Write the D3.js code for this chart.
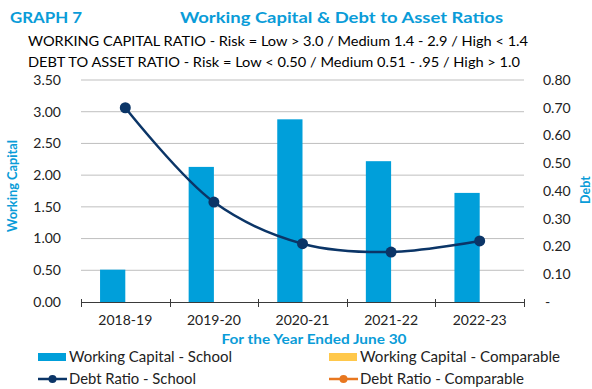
<!DOCTYPE html>
<html>
<head>
<meta charset="utf-8">
<script src="https://cdn.jsdelivr.net/npm/d3@7"></script>
<style>
  html, body { margin: 0; padding: 0; background: #fff; }
  svg { display: block; font-family: Lato, "Open Sans", "Liberation Sans", sans-serif; }
</style>
</head>
<body>
<svg id="chart" width="592" height="389"></svg>
<script>
// Fiscal years on the category axis
const years = ["2018-19", "2019-20", "2020-21", "2021-22", "2022-23"];
// Working capital ratio of the school (left axis)
const workingCapitalSchool = [0.51, 2.13, 2.88, 2.22, 1.72];
// Debt-to-asset ratio of the school (right axis)
const debtRatioSchool = [0.70, 0.36, 0.21, 0.18, 0.22];
// Axis ticks
const leftTicks = [0, 0.5, 1.0, 1.5, 2.0, 2.5, 3.0, 3.5];
const rightTicks = [0, 0.1, 0.2, 0.3, 0.4, 0.5, 0.6, 0.7, 0.8];
// Legend entries
const legendItems = [
  { label: "Working Capital - School", kind: "bar", color: "#009FDA" },
  { label: "Working Capital - Comparable", kind: "bar", color: "#FFC84B" },
  { label: "Debt Ratio - School", kind: "line", color: "#0B3567" },
  { label: "Debt Ratio - Comparable", kind: "line", color: "#E8771F" }
];

const blue = "#0A9CD8";
const barColor = "#009FDA";
const lineColor = "#0B3567";

const svg = d3.select("#chart");

const plot = { left: 81, right: 524, top: 80, bottom: 302 };

const x = d3.scaleBand().domain(years).range([plot.left, plot.right]).padding(0);
const yL = d3.scaleLinear().domain([0, 3.5]).range([plot.bottom, plot.top]);
const yR = d3.scaleLinear().domain([0, 0.8]).range([plot.bottom, plot.top]);

// Titles
svg.append("text").attr("x", 10).attr("y", 23)
  .attr("font-size", 16).attr("font-weight", 700).attr("fill", blue)
  .attr("textLength", 72).attr("lengthAdjust", "spacingAndGlyphs")
  .text("GRAPH 7");
svg.append("text").attr("x", 180).attr("y", 23)
  .attr("font-size", 16).attr("font-weight", 700).attr("fill", blue)
  .attr("textLength", 323).attr("lengthAdjust", "spacingAndGlyphs")
  .text("Working Capital & Debt to Asset Ratios");
svg.append("text").attr("x", 28).attr("y", 45.5)
  .attr("font-size", 13.5).attr("fill", "#000")
  .attr("textLength", 500).attr("lengthAdjust", "spacingAndGlyphs")
  .text("WORKING CAPITAL RATIO - Risk = Low > 3.0 / Medium 1.4 - 2.9 / High < 1.4");
svg.append("text").attr("x", 28).attr("y", 66.5)
  .attr("font-size", 13.5).attr("fill", "#000")
  .attr("textLength", 492).attr("lengthAdjust", "spacingAndGlyphs")
  .text("DEBT TO ASSET RATIO - Risk = Low < 0.50 / Medium 0.51 - .95 / High > 1.0");

// Horizontal gridlines
svg.append("g").selectAll("line")
  .data(leftTicks.filter(d => d > 0))
  .join("line")
  .attr("x1", plot.left).attr("x2", plot.right)
  .attr("y1", d => yL(d)).attr("y2", d => yL(d))
  .attr("stroke", "#BFBFBF").attr("stroke-width", 1);

// Left axis labels
svg.append("g").selectAll("text")
  .data(leftTicks)
  .join("text")
  .attr("x", 61).attr("y", d => yL(d)).attr("dy", "0.35em")
  .attr("text-anchor", "end").attr("font-size", 14).attr("fill", "#222")
  .text(d => d3.format(".2f")(d));

// Right axis labels
svg.append("g").selectAll("text")
  .data(rightTicks)
  .join("text")
  .attr("x", d => d === 0 ? 545 : 543).attr("y", d => yR(d)).attr("dy", "0.35em")
  .attr("text-anchor", "start").attr("font-size", 14).attr("fill", "#222")
  .text(d => d === 0 ? "-" : d3.format(".2f")(d));

// Axis titles
svg.append("text")
  .attr("transform", `translate(17,${(plot.top + plot.bottom) / 2 - 5}) rotate(-90)`)
  .attr("text-anchor", "middle").attr("font-size", 13).attr("font-weight", 700).attr("fill", blue)
  .attr("textLength", 92).attr("lengthAdjust", "spacingAndGlyphs")
  .text("Working Capital");
svg.append("text")
  .attr("transform", `translate(590,190) rotate(-90)`)
  .attr("text-anchor", "middle").attr("font-size", 12.5).attr("font-weight", 700).attr("fill", blue)
  .text("Debt");
svg.append("text")
  .attr("x", 314).attr("y", 339).attr("dy", "0.35em")
  .attr("text-anchor", "middle").attr("font-size", 14).attr("font-weight", 700).attr("fill", blue)
  .attr("textLength", 185).attr("lengthAdjust", "spacingAndGlyphs")
  .text("For the Year Ended June 30");

// Bars: school series occupies the left half of each group
const barW = x.bandwidth() * 0.285;
svg.append("g").selectAll("rect")
  .data(years.map((c, i) => ({ c, v: workingCapitalSchool[i] })))
  .join("rect")
  .attr("x", d => x(d.c) + x.bandwidth() / 2 - barW)
  .attr("y", d => yL(d.v))
  .attr("width", barW)
  .attr("height", d => plot.bottom - yL(d.v))
  .attr("fill", barColor);

// Category axis baseline and tick marks
svg.append("line")
  .attr("x1", plot.left).attr("x2", plot.right)
  .attr("y1", plot.bottom + 0.5).attr("y2", plot.bottom + 0.5)
  .attr("stroke", "#3a3a3a").attr("stroke-width", 1);
const boundaries = years.map(c => x(c)).concat([plot.right]);
svg.append("g").selectAll("line")
  .data(boundaries)
  .join("line")
  .attr("x1", d => Math.round(d) + 0.5).attr("x2", d => Math.round(d) + 0.5)
  .attr("y1", plot.bottom - 3).attr("y2", plot.bottom + 5)
  .attr("stroke", "#3a3a3a").attr("stroke-width", 1);

// Category labels
svg.append("g").selectAll("text")
  .data(years)
  .join("text")
  .attr("x", d => x(d) + x.bandwidth() / 2).attr("y", 320).attr("dy", "0.35em")
  .attr("text-anchor", "middle").attr("font-size", 14).attr("fill", "#222")
  .text(d => d);

// Debt ratio line (smoothed) with markers
const pts = years.map((c, i) => ({ c, v: debtRatioSchool[i] }));
const line = d3.line()
  .x(d => x(d.c) + x.bandwidth() / 2)
  .y(d => yR(d.v))
  .curve(d3.curveCatmullRom.alpha(0.5));
svg.append("path")
  .datum(pts)
  .attr("d", line)
  .attr("fill", "none").attr("stroke", lineColor).attr("stroke-width", 2.5);
svg.append("g").selectAll("circle")
  .data(pts)
  .join("circle")
  .attr("cx", d => x(d.c) + x.bandwidth() / 2)
  .attr("cy", d => yR(d.v))
  .attr("r", 5.5)
  .attr("fill", lineColor);

// Legend
const legendPos = [
  { sx: 38, tx: 69, y: 357, w: 163 },
  { sx: 329, tx: 360, y: 357, w: 200 },
  { sx: 38, tx: 69, y: 379, w: 127 },
  { sx: 329, tx: 360, y: 379, w: 164 }
];
const lg = svg.append("g").selectAll("g")
  .data(legendItems)
  .join("g");
lg.each(function (d, i) {
  const g = d3.select(this);
  const p = legendPos[i];
  if (d.kind === "bar") {
    g.append("rect").attr("x", p.sx).attr("y", p.y - 4).attr("width", 28).attr("height", 8).attr("fill", d.color);
  } else {
    g.append("line").attr("x1", p.sx).attr("x2", p.sx + 29).attr("y1", p.y).attr("y2", p.y)
      .attr("stroke", d.color).attr("stroke-width", 2.5);
    g.append("circle").attr("cx", p.sx + 14.5).attr("cy", p.y).attr("r", 4).attr("fill", d.color);
  }
  g.append("text").attr("x", p.tx).attr("y", p.y).attr("dy", "0.35em")
    .attr("font-size", 15).attr("fill", "#222")
    .attr("textLength", p.w).attr("lengthAdjust", "spacingAndGlyphs")
    .text(d.label);
});
</script>
</body>
</html>
